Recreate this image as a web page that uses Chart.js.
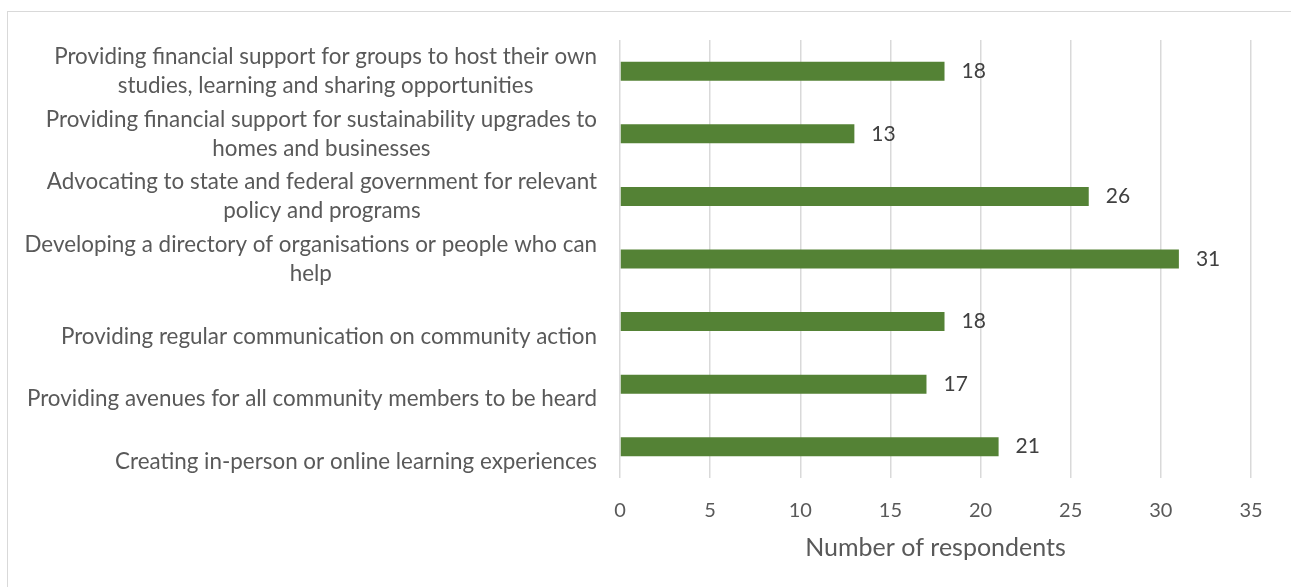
<!DOCTYPE html>
<html>
<head>
<meta charset="utf-8">
<script src="https://cdn.jsdelivr.net/npm/chart.js@4/dist/chart.umd.min.js"></script>
<style>
  html, body { margin: 0; padding: 0; background: #ffffff; }
  #wrap { position: relative; width: 1291px; height: 587px; }
</style>
</head>
<body>
<div id="wrap"><canvas id="c" width="1291" height="587"></canvas></div>
<script>
const categories = [
  ["Providing financial support for groups to host their own", "studies, learning and sharing opportunities"],
  ["Providing financial support for sustainability upgrades to", "homes and businesses"],
  ["Advocating to state and federal government for relevant", "policy and programs"],
  ["Developing a directory of organisations or people who can", "help"],
  ["Providing regular communication on community action"],
  ["Providing avenues for all community members to be heard"],
  ["Creating in-person or online learning experiences"]
];
const respondents = [18, 13, 26, 31, 18, 17, 21];
const xTicks = [0, 5, 10, 15, 20, 25, 30, 35];
const xTitle = "Number of respondents";

const FONT = "Lato, 'Open Sans', sans-serif";

const framePlugin = {
  id: 'frame',
  beforeDraw(chart) {
    const ctx = chart.ctx;
    ctx.save();
    ctx.fillStyle = '#ffffff';
    ctx.fillRect(0, 0, chart.width, chart.height);
    ctx.strokeStyle = '#d9d9d9';
    ctx.lineWidth = 1;
    ctx.strokeRect(7.5, 11.5, chart.width + 10, chart.height + 10);
    ctx.restore();
  }
};

const labelPlugin = {
  id: 'catLabels',
  afterDraw(chart) {
    const ctx = chart.ctx;
    const yScale = chart.scales.y;
    const right = chart.chartArea.left - 23;
    const lh = 29;
    ctx.save();
    ctx.font = "22.4px " + FONT;
    ctx.fillStyle = '#595959';
    ctx.textBaseline = 'middle';
    ctx.textAlign = 'center';
    categories.forEach((lines, i) => {
      const cy = yScale.getPixelForValue(i);
      const maxW = Math.max(...lines.map(l => ctx.measureText(l).width));
      const cx = right - maxW / 2;
      let y0 = lines.length > 1 ? cy - (lines.length - 1) * lh / 2 : cy + 15;
      lines.forEach((l, k) => ctx.fillText(l, cx, y0 + k * lh));
    });
    // value labels
    ctx.font = "21px " + FONT;
    ctx.fillStyle = '#404040';
    ctx.textAlign = 'left';
    const meta = chart.getDatasetMeta(0);
    meta.data.forEach((bar, i) => {
      ctx.fillText(String(respondents[i]), bar.x + 17, bar.y);
    });
    ctx.restore();
  }
};

new Chart(document.getElementById('c'), {
  type: 'bar',
  data: {
    labels: categories.map(l => l.join(' ')),
    datasets: [{
      data: respondents,
      backgroundColor: '#548235',
      borderWidth: 0,
      barPercentage: 0.304,
      categoryPercentage: 1
    }]
  },
  options: {
    indexAxis: 'y',
    responsive: false,
    animation: false,
    devicePixelRatio: 1,
    layout: { padding: { top: 40, right: 40, bottom: 0, left: 0 } },
    plugins: { legend: { display: false }, tooltip: { enabled: false } },
    scales: {
      x: {
        min: 0, max: 35,
        afterBuildTicks(scale) { scale.ticks = xTicks.map(v => ({ value: v })); },
        afterFit(scale) { scale.height = 109; },
        ticks: { color: '#595959', font: { family: FONT, size: 20 }, padding: 21 },
        grid: { color: '#d9d9d9', lineWidth: 1.5, drawTicks: false },
        border: { display: false },
        title: { display: true, text: xTitle, color: '#595959', font: { family: FONT, size: 25 }, padding: { top: 0, bottom: 24 } }
      },
      y: {
        afterFit(scale) { scale.width = 620; },
        ticks: { display: false },
        grid: { display: false },
        border: { display: false }
      }
    }
  },
  plugins: [framePlugin, labelPlugin]
});
</script>
</body>
</html>
